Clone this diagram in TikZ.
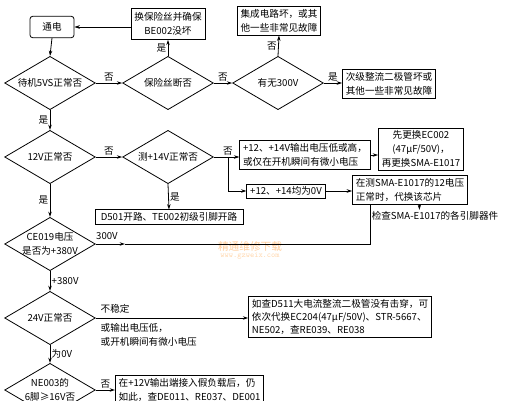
\documentclass[tikz,border=0pt]{standalone}
\usepackage{fontspec}
\newfontfamily\cjk{Noto Sans CJK SC}
\usetikzlibrary{shapes.geometric,arrows.meta}

\tikzset{every picture/.style={line width=0.6pt}}
\tikzset{
  every node/.style={font=\cjk\fontsize{7.2}{10.5}\selectfont},
  dia/.style={draw,diamond,aspect=1.7,minimum width=68pt,minimum height=40pt,inner sep=0pt},
  dtext/.style={align=center,inner sep=0pt},
  box/.style={draw,inner xsep=2.5pt,inner ysep=2pt},
  tag/.style={inner sep=1pt},
  arr/.style={-{Stealth[length=4pt,width=2.6pt]}}
}

\begin{document}
\begin{tikzpicture}[x=0.75pt,y=0.75pt,yscale=-1,xscale=1]
\useasboundingbox (0,0) rectangle (506,400);
\clip (0,0) rectangle (506,400);

%Shape: Diamond
\node[dia,label={[dtext]center:待机5VS正常否}] (d1) at (50,83) {};
\node[dia,label={[dtext]center:保险丝断否}] (d2) at (168,83) {};
\node[dia,label={[dtext]center:有无300V}] (d3) at (278,83) {};
\node[dia,label={[dtext]center:12V正常否}] (d4) at (50,157) {};
\node[dia,label={[dtext]center:测+14V正常否}] (d5) at (168,157) {};
\node[dia,label={[dtext]center:CE019电压\\是否为+380V}] (d6) at (50,244) {};
\node[dia,label={[dtext]center:24V正常否}] (d7) at (50,318) {};
\node[dia,label={[dtext]center:NE003的\\6脚≥16V否}] (d8) at (50,390) {};

%Shape: Rectangle
\node[box,rounded corners=2pt,minimum width=33pt,minimum height=16pt] (b_power) at (52,27) {通电};
\node[box,align=center,minimum width=55.5pt,minimum height=23pt] (b_fuse) at (168,24) {换保险丝并确保\\BE002没坏};
\node[box,align=left] (b_ic) at (279,21) {集成电路坏，或其\\他一些非常见故障};
\node[box,align=left] (b_diode) at (389,84) {次级整流二极管坏或\\其他一些非常见故障};
\node[box,align=left] (b_low) at (305,155) {+12、+14V输出电压低或高，\\或仅在开机瞬间有微小电压};
\node[box,align=center] (b_cap) at (421,149) {先更换EC002\\(47μF/50V)，\\再更换SMA-E1017};
\node[box] (b_zero) at (286,191) {+12、+14均为0V};
\node[box,align=left] (b_chip) at (410,190) {在测SMA-E1017的12电压\\正常时，代换该芯片};
\node[inner sep=1pt] (t_check) at (435,216) {检查SMA-E1017的各引脚器件};
\node[box,minimum width=111pt] (b_open) at (169,217) {D501开路、TE002初级引脚开路};
\node[box,align=left,font=\cjk\fontsize{7.2}{9.8}\selectfont] (b_d511) at (340,317) {如查D511大电流整流二极管没有击穿，可\\依次代换EC204(47μF/50V)、STR-5667、\\NE502，查RE039、RE038};
\node[box,align=left,anchor=north west] (b_load) at (115,375) {在+12V输出端接入假负载后，仍\\如此，查DE011、RE037、DE001};

% Text Node
\node[text=orange!40,font=\cjk\fontsize{8}{9}\selectfont] (wm1) at (250,246) {精通维修下载};
\node[text=orange!30,font=\ttfamily\fontsize{6}{7}\selectfont] (wm2) at (250,256) {www.gzweix.com};

%Straight Lines
\draw[arr] (b_fuse.west |- b_power.east) -- (b_power.east);
\draw[arr] (b_power.south) -- (d1.north);
\draw[arr] (d1.east) -- node[tag,above] (l1) {否} (d2.west);
\draw[arr] (d2.north) -- node[tag,left] (l2) {是} (b_fuse.south);
\draw[arr] (d2.east) -- node[tag,above] (l3) {否} (d3.west);
\draw[arr] (d3.north) -- node[tag,left] (l4) {否} (b_ic.south);
\draw[arr] (d3.east) -- node[tag,above] (l5) {是} (d3.east -| b_diode.west);
\draw[arr] (d1.south) -- node[tag,left] (l6) {是} (d4.north);
\draw[arr] (d4.east) -- node[tag,above] (l7) {否} (d5.west);

\coordinate (c_fork) at (228,157);
\draw (d5.east) -- (c_fork) node[tag,above] (l8) {否};
\draw[arr] (c_fork) -- (c_fork -| b_low.west);
\draw[arr] (c_fork) |- (b_zero.west);
\draw[arr] (b_low.east) -- (b_low.east -| b_cap.west);
\draw[arr] (b_zero.east) -- (b_zero.east -| b_chip.west);
\draw[arr] ([xshift=7pt]b_chip.south) -- ([xshift=7pt]b_chip.south |- t_check.north);
\draw[arr] (d5.south) -- node[tag,right] (l9) {是} (b_open.north);
\draw[arr] (d4.south) -- node[tag,left] (l10) {是} (d6.north);

\coordinate (c_mid) at (125,244);
\coordinate (c_turn) at (370,244);
\draw[arr] (d6.east) -- (c_mid);
\draw (c_mid) -- (c_turn) -- (c_turn |- b_chip.south);
\node[tag] (l11) at (107,236) {300V};

\draw[arr] (d6.south) -- node[tag,right] (l12) {+380V} (d7.north);
\draw[arr] (d7.east) -- (d7.east -| b_d511.west);
\node[tag,anchor=west] (l13) at (99,309) {不稳定};
\node[tag,anchor=north west,align=left] (l14) at (99,322) {或输出电压低，\\或开机瞬间有微小电压};
\draw[arr] (d7.south) -- node[tag,right] (l15) {为0V} (d8.north);
\draw[arr] (d8.east) -- node[tag,above] (l16) {否} (d8.east -| b_load.west);

\end{tikzpicture}
\end{document}
